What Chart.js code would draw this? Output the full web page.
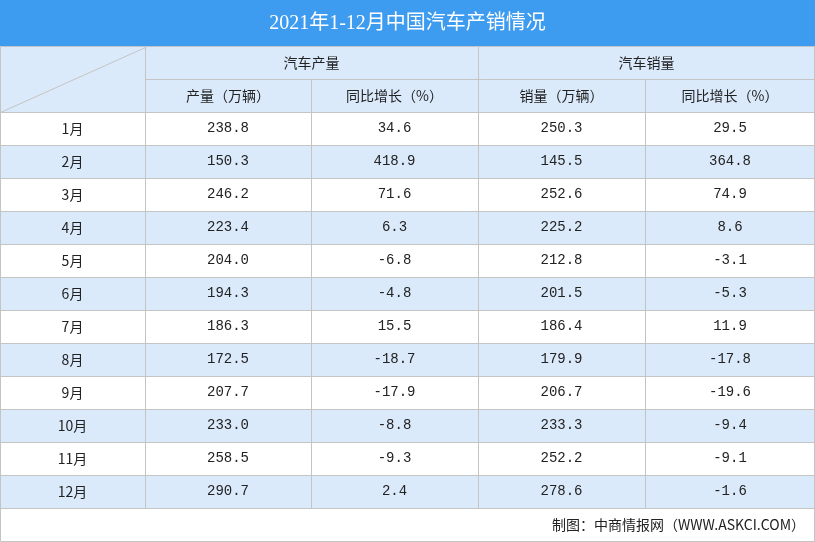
<!DOCTYPE html>
<html><head><meta charset="utf-8">
<script src="https://cdn.jsdelivr.net/npm/chart.js@4/dist/chart.umd.min.js"></script>
<style>html,body{margin:0;padding:0;background:#fff}#wrap{width:815px;height:542px}</style>
</head><body><div id="wrap"><canvas id="c"></canvas></div>
<script>
const title = '2021年1-12月中国汽车产销情况';
const groups = ['汽车产量', '汽车销量'];
const subHeaders = ['产量（万辆）', '同比增长（%）', '销量（万辆）', '同比增长（%）'];
const months = ['1月','2月','3月','4月','5月','6月','7月','8月','9月','10月','11月','12月'];
const output = [238.8,150.3,246.2,223.4,204.0,194.3,186.3,172.5,207.7,233.0,258.5,290.7];
const outputGrowth = [34.6,418.9,71.6,6.3,-6.8,-4.8,15.5,-18.7,-17.9,-8.8,-9.3,2.4];
const sales = [250.3,145.5,252.6,225.2,212.8,201.5,186.4,179.9,206.7,233.3,252.2,278.6];
const salesGrowth = [29.5,364.8,74.9,8.6,-3.1,-5.3,11.9,-17.8,-19.6,-9.4,-9.1,-1.6];
const source = '制图：中商情报网（WWW.ASKCI.COM）';

// layout (pixels in scale units)
const colEdges = [0, 145, 311, 478, 645, 815];
const titleH = 46, head1 = 79, head2 = 112, rowH = 33;
const BLUE = '#3d9bf0', LIGHT = '#dbeafb', GRID = '#c4c4c4';
const numFont = '14px "Liberation Mono", "Noto Sans CJK SC", monospace';
const cjkFont = '14px "Noto Sans CJK SC", sans-serif';

const tablePlugin = {
  id: 'table',
  afterDraw(chart) {
    const { ctx, scales: { x, y } } = chart;
    const X = v => x.getPixelForValue(v), Y = v => y.getPixelForValue(v);
    const rect = (x0, y0, x1, y1, fill) => {
      ctx.fillStyle = fill;
      ctx.fillRect(X(x0), Y(y0), X(x1) - X(x0), Y(y1) - Y(y0));
    };
    const line = (x0, y0, x1, y1) => {
      ctx.beginPath();
      ctx.moveTo(Math.round(X(x0)) + 0.5, Math.round(Y(y0)) + 0.5);
      ctx.lineTo(Math.round(X(x1)) + 0.5, Math.round(Y(y1)) + 0.5);
      ctx.stroke();
    };
    const text = (s, cx, cy, font, color) => {
      ctx.font = font; ctx.fillStyle = color || '#222';
      ctx.textAlign = 'center'; ctx.textBaseline = 'middle';
      ctx.fillText(s, X(cx), Y(cy));
    };
    ctx.save();
    const W = colEdges[colEdges.length - 1];
    const bodyEnd = head2 + rowH * months.length;
    rect(0, 0, W, titleH, BLUE);
    text(title, W / 2, titleH / 2 + 1, '20px "Liberation Serif", "Noto Sans CJK SC", serif', '#fff');
    rect(0, titleH, W, head2, LIGHT);
    months.forEach((m, i) => {
      if (i % 2 === 1) rect(0, head2 + i * rowH, W, head2 + (i + 1) * rowH, LIGHT);
    });
    ctx.strokeStyle = GRID; ctx.lineWidth = 1;
    // horizontal lines
    line(0, titleH, W, titleH);
    line(colEdges[1], head1, W, head1);
    for (let i = 0; i <= months.length; i++) line(0, head2 + i * rowH, W, head2 + i * rowH);
    line(0, 541, W, 541);
    // vertical lines
    colEdges.forEach((e, i) => {
      const xx = i === colEdges.length - 1 ? e - 1 : e;
      if (i === 0 || i === colEdges.length - 1) { line(xx, titleH, xx, 541); return; }
      if (i === 2 || i === 4) line(xx, head1, xx, bodyEnd);
      else line(xx, titleH, xx, bodyEnd);
    });
    line(0, head2, colEdges[1], titleH + 1);
    // header text
    text(groups[0], (colEdges[1] + colEdges[3]) / 2, (titleH + head1) / 2, cjkFont);
    text(groups[1], (colEdges[3] + colEdges[5]) / 2, (titleH + head1) / 2, cjkFont);
    subHeaders.forEach((h, i) => text(h, (colEdges[i + 1] + colEdges[i + 2]) / 2, (head1 + head2) / 2, cjkFont));
    // body
    const cols = [output, outputGrowth, sales, salesGrowth];
    months.forEach((m, r) => {
      const cy = head2 + r * rowH + rowH / 2;
      text(m, colEdges[1] / 2, cy, cjkFont);
      cols.forEach((arr, c) => text(arr[r].toFixed(1), (colEdges[c + 1] + colEdges[c + 2]) / 2, cy, numFont));
    });
    ctx.font = cjkFont; ctx.fillStyle = '#222'; ctx.textAlign = 'right'; ctx.textBaseline = 'middle';
    ctx.fillText(source, X(W - 10), Y((bodyEnd + 542) / 2));
    ctx.restore();
  }
};

new Chart(document.getElementById('c'), {
  type: 'scatter',
  data: { datasets: [{ data: [], pointRadius: 0 }] },
  options: {
    responsive: true,
    maintainAspectRatio: false,
    animation: false,
    layout: { padding: 0 },
    plugins: { legend: { display: false }, tooltip: { enabled: false } },
    scales: {
      x: { type: 'linear', min: 0, max: 815, display: false },
      y: { type: 'linear', min: 0, max: 542, reverse: true, display: false },
    },
  },
  plugins: [tablePlugin],
});
</script></body></html>
